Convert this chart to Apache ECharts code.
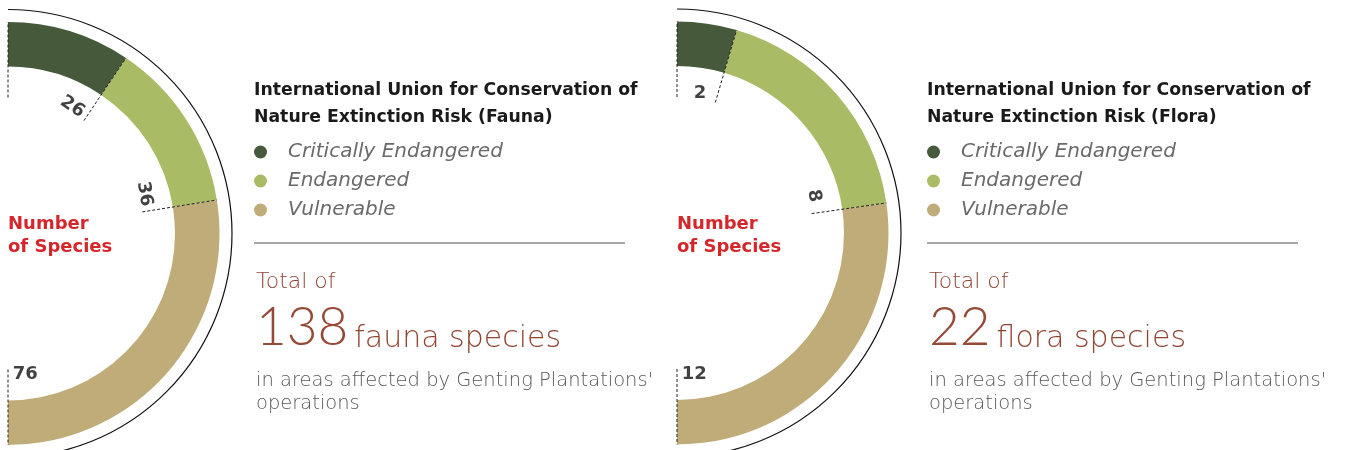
<!DOCTYPE html>
<html>
<head>
<meta charset="utf-8">
<script src="https://cdn.jsdelivr.net/npm/echarts@6/dist/echarts.min.js"></script>
<style>
  html, body { margin: 0; padding: 0; background: #fff; }
  #main { width: 1348px; height: 450px; }
</style>
</head>
<body>
<div id="main"></div>
<script>
// data
const categories = ['Critically Endangered', 'Endangered', 'Vulnerable']
const faunaValues = [26, 36, 76]
const floraValues = [2, 8, 12]
const panelNames = ['Fauna', 'Flora']
const unitNames = ['fauna species', 'flora species']

const colors = ['#46593b', '#a9bb65', '#bfac78']
const FONT = '"DejaVu Sans", sans-serif'
const THIN = 'Lato, sans-serif'

var chartDom = document.getElementById('main')
var myChart = echarts.init(chartDom)
var option

// layout of the two panels
const panels = [
  { values: faunaValues, cx: 8, cy: 233.5, textX: 254, rot: [-34, -80, 0] },
  { values: floraValues, cx: 677, cy: 233, textX: 927, rot: [0, -80, 0] },
]

const R_IN = 167
const R_OUT = 211.5
const R_ARC = 224

var series = []
var polar = []
var angleAxis = []
var radiusAxis = []
var legend = []
var title = []
var graphic = []

panels.forEach((p, k) => {
  const total = p.values.reduce((a, b) => a + b, 0)

  polar.push({ center: [p.cx, p.cy], radius: [0, R_ARC] })
  angleAxis.push({
    polarIndex: k, type: 'value', min: 0, max: total * 2,
    startAngle: 90, clockwise: true, show: false,
  })
  radiusAxis.push({ polarIndex: k, type: 'value', min: 0, max: R_ARC, show: false })

  // ring
  series.push({
    type: 'pie',
    name: panelNames[k],
    center: [p.cx, p.cy],
    radius: [R_IN, R_OUT],
    startAngle: 90,
    endAngle: -90,
    clockwise: true,
    silent: true,
    animation: false,
    label: { show: false },
    labelLine: { show: false },
    emphasis: { disabled: true },
    data: categories.map((name, i) => ({
      name: name,
      value: p.values[i],
      itemStyle: { color: colors[i] },
    })),
  })

  // dashed radial guides at each boundary
  let cum = [0]
  p.values.forEach((v) => cum.push(cum[cum.length - 1] + v))
  let guide = []
  cum.forEach((c) => {
    guide.push([136, c], [R_OUT, c], '-')
  })
  series.push({
    type: 'line',
    coordinateSystem: 'polar',
    polarIndex: k,
    data: guide,
    symbol: 'none',
    silent: true,
    animation: false,
    z: 5,
    lineStyle: { color: '#222', width: 1, type: [3, 2] },
  })

  // value labels, just before each segment end
  const off = (total * 2 * 7) / 360
  series.push({
    type: 'scatter',
    coordinateSystem: 'polar',
    polarIndex: k,
    symbolSize: 0,
    silent: true,
    animation: false,
    z: 6,
    data: p.values.map((v, i) => ({
      value: [142, cum[i + 1] - off],
      label: { rotate: p.rot[i] },
    })),
    label: {
      show: true,
      position: 'inside',
      formatter: (d) => p.values[d.dataIndex],
      color: '#111',
      fontFamily: FONT,
      fontWeight: 'bold',
      fontSize: 18,
    },
  })

  legend.push({
    data: categories,
    orient: 'vertical',
    left: p.textX,
    top: 142,
    padding: 0,
    icon: 'circle',
    itemWidth: 13,
    itemHeight: 13,
    itemGap: 9,
    selectedMode: false,
    textStyle: {
      color: '#6a6a6a',
      fontFamily: FONT,
      fontStyle: 'italic',
      fontWeight: 200,
      fontSize: 20,
      lineHeight: 18,
      padding: [0, 0, 0, 16],
    },
  })

  title.push({
    text: 'International Union for Conservation of\nNature Extinction Risk (' + panelNames[k] + ')',
    left: p.textX,
    top: 77,
    padding: 0,
    textStyle: {
      color: '#1a1a1a', fontFamily: FONT, fontWeight: 'bold', fontSize: 17.3, lineHeight: 27,
    },
  })
  title.push({
    text: 'Number\nof Species',
    left: p.cx,
    top: 212.5,
    padding: 0,
    textStyle: {
      color: '#d3272b', fontFamily: FONT, fontWeight: 'bold', fontSize: 18, lineHeight: 23,
    },
  })
  title.push({
    text: '{t|Total of}\n{big|' + total + '}{unit|' + unitNames[k] + '}',
    left: p.textX + 2,
    top: 267,
    padding: 0,
    textStyle: {
      rich: {
        t: { color: '#8f4432', fontFamily: FONT, fontWeight: 200, fontSize: 22, lineHeight: 30 },
        big: { color: '#944a37', fontFamily: THIN, fontWeight: 300, fontSize: 53, lineHeight: 62, padding: [0, 6, 0, 0] },
        unit: { color: '#8f4432', fontFamily: FONT, fontWeight: 200, fontSize: 30, lineHeight: 30, verticalAlign: 'bottom', padding: [0, 0, 5, 0] },
      },
    },
  })
  title.push({
    text: "in areas affected by Genting Plantations'\noperations",
    left: p.textX + 2,
    top: 369,
    padding: 0,
    textStyle: {
      color: '#575757', fontFamily: FONT, fontWeight: 200, fontSize: 19.5, lineHeight: 23,
    },
  })

  graphic.push({
    type: 'arc',
    silent: true,
    shape: { cx: p.cx, cy: p.cy, r: R_ARC, startAngle: -Math.PI / 2, endAngle: Math.PI / 2, clockwise: true },
    style: { stroke: '#111', lineWidth: 1.2, fill: null },
  })
  graphic.push({
    type: 'line',
    silent: true,
    shape: { x1: p.textX, y1: 243, x2: p.textX + 371, y2: 243 },
    style: { stroke: '#8a8a8a', lineWidth: 1.5 },
  })
})

option = {
  backgroundColor: '#fff',
  animation: false,
  title: title,
  legend: legend,
  polar: polar,
  angleAxis: angleAxis,
  radiusAxis: radiusAxis,
  graphic: graphic,
  series: series,
}

option && myChart.setOption(option)
</script>
</body>
</html>
